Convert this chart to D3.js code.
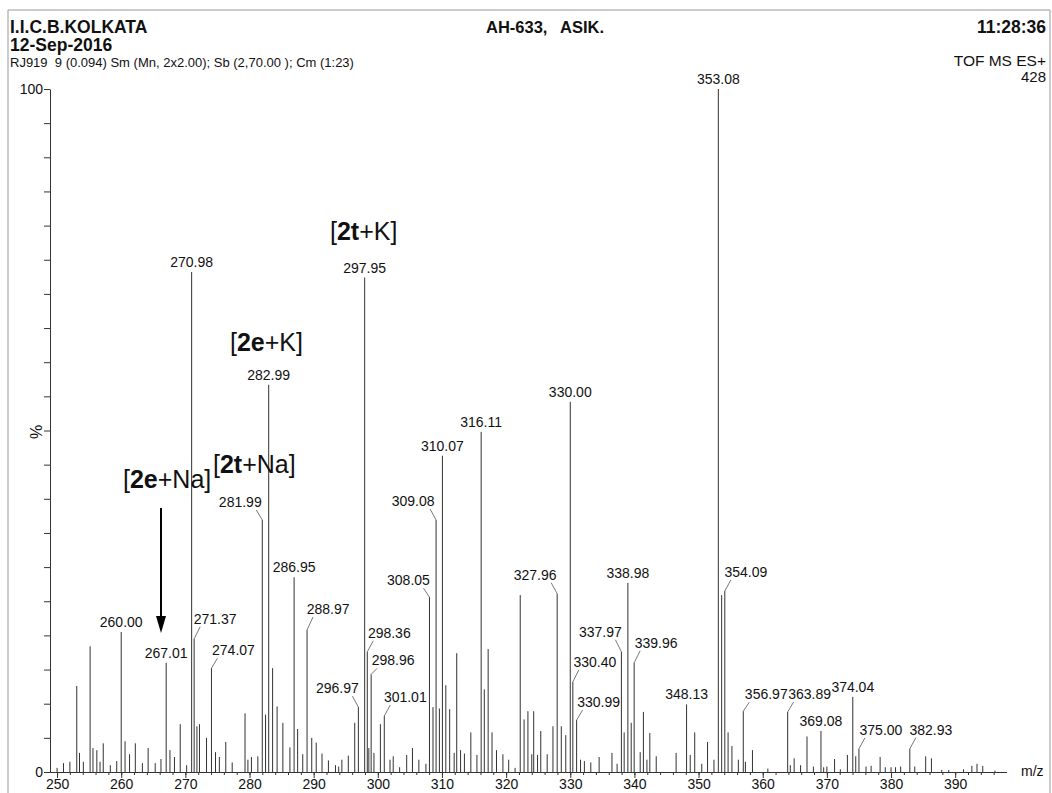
<!DOCTYPE html>
<html><head><meta charset="utf-8">
<script src="https://cdn.jsdelivr.net/npm/d3@7"></script>
<style>
body{margin:0;background:#fff}
svg{display:block}
text{font-family:"Liberation Sans",Arial,Helvetica,sans-serif;fill:#111}
</style>
</head><body>
<svg id="chart" width="1052" height="793"></svg>
<script>
// ---------------- data ----------------
const peakMz = [
250.0, 251.0, 252.0, 253.07, 253.5, 254.1, 255.15, 255.6, 256.2, 256.7, 257.2, 258.3, 259.3,
260.00, 260.6, 261.3, 262.2, 263.3, 264.2, 265.3, 266.2, 267.01, 267.6, 268.3, 269.2,
270.2, 270.98, 271.37, 271.8, 272.2, 273.3, 274.07, 274.7, 275.3, 276.3, 277.3, 279.3, 279.75,
280.3, 281.3, 281.99, 282.5, 282.99, 283.6, 284.3, 285.2, 286.3, 286.95, 287.5, 288.3, 288.97, 289.7,
290.4, 291.3, 292.3, 293.4, 293.9, 294.4, 295.4, 296.4, 296.97, 297.95, 298.36, 298.6, 298.96, 299.4,
300.4, 301.01, 301.9, 302.4, 303.4, 304.5, 305.4, 306.4, 307.5, 308.05, 308.6, 309.08, 309.6,
310.07, 310.6, 311.2, 311.9, 312.3, 312.9, 313.5, 314.5, 315.45, 316.11, 316.6, 317.2, 317.8, 318.5, 319.5,
320.4, 321.4, 322.2, 322.8, 323.4, 324.0, 324.3, 324.9, 325.4, 326.4, 327.3, 327.96, 328.6, 329.3,
330.00, 330.40, 330.99, 331.6, 332.2, 333.2, 334.5, 336.5, 337.3, 337.97, 338.4, 338.98, 339.5, 339.96,
340.9, 341.4, 341.95, 342.4, 343.4, 346.5, 348.13, 348.7, 349.4, 350.5, 351.4, 352.4, 353.08, 353.6,
354.09, 354.6, 355.2, 356.2, 356.97, 357.3, 358.4, 360.8, 363.89, 364.3, 364.9, 365.9, 366.9, 367.9,
369.08, 369.5, 370.0, 371.2, 372.1, 373.2, 374.04, 374.5, 375.00, 376.1, 376.9, 378.3, 379.1,
380.0, 380.7, 381.5, 382.93, 383.7, 385.4, 386.3, 387.9, 389.0, 391.3, 392.6, 393.4, 394.3, 396.2
];
const peakPct = [
0.6, 1.3, 1.5, 12.6, 2.8, 1.5, 18.4, 3.5, 3.2, 1.5, 4.2, 1.0, 1.6,
20.5, 4.5, 2.6, 4.2, 1.3, 3.5, 1.3, 1.9, 16.0, 3.2, 2.2, 7.0,
1.0, 73.2, 19.5, 6.7, 7.0, 5.0, 15.2, 2.9, 2.2, 4.4, 1.4, 8.6, 1.8,
2.2, 2.3, 36.9, 8.4, 56.7, 15.2, 9.6, 7.2, 3.6, 28.5, 6.3, 2.6, 20.8, 5.0,
4.3, 2.7, 1.7, 1.0, 0.8, 1.8, 2.4, 7.2, 9.5, 72.4, 17.6, 3.5, 14.3, 2.8,
7.0, 8.2, 1.8, 2.3, 0.7, 2.5, 3.5, 1.8, 1.2, 25.6, 9.5, 36.9, 9.3,
46.3, 12.7, 9.2, 2.8, 17.4, 3.2, 2.7, 5.8, 2.5, 49.8, 12.1, 18.0, 5.8, 3.2, 2.6,
1.8, 0.6, 25.9, 7.7, 8.9, 2.6, 8.9, 2.5, 6.0, 2.6, 6.7, 26.1, 6.7, 5.4,
54.2, 13.2, 7.6, 1.8, 1.6, 1.4, 2.2, 2.8, 1.2, 17.6, 5.8, 27.7, 7.2, 16.0,
2.9, 8.8, 1.8, 5.7, 2.3, 2.8, 9.9, 2.5, 5.8, 1.2, 4.4, 1.8, 100, 25.9,
26.5, 5.8, 3.8, 1.8, 8.9, 1.5, 3.2, 0.5, 8.8, 1.0, 2.0, 1.0, 5.2, 0.8,
6.0, 0.7, 0.8, 1.9, 0.4, 2.5, 11.0, 2.3, 3.4, 0.8, 0.9, 2.2, 0.7,
0.7, 0.7, 0.8, 3.4, 0.8, 2.3, 2.0, 0.3, 0.3, 0.4, 0.9, 1.2, 0.9, 0.2
];
const labelledMz = [260.00, 267.01, 270.98, 271.37, 274.07, 281.99, 282.99, 286.95, 288.97,
  296.97, 297.95, 298.36, 298.96, 301.01, 308.05, 309.08, 310.07, 316.11, 327.96, 330.00,
  330.40, 330.99, 337.97, 338.98, 339.96, 348.13, 353.08, 354.09, 356.97, 363.89, 369.08,
  374.04, 375.00, 382.93];
const xTickValues = [250, 260, 270, 280, 290, 300, 310, 320, 330, 340, 350, 360, 370, 380, 390];
const yTickValues = d3.range(0, 101, 5);
const yTickLabels = [0, 100];
const headerLeft = ["I.I.C.B.KOLKATA", "12-Sep-2016"];
const headerInfo = "RJ919  9 (0.094) Sm (Mn, 2x2.00); Sb (2,70.00 ); Cm (1:23)";
const headerCenter = ["AH-633,", "ASIK."];
const headerTime = "11:28:36";
const headerRight = ["TOF MS ES+", "428"];
const annotations = [
  ["[", "2e", "+Na]"],
  ["[", "2t", "+Na]"],
  ["[", "2e", "+K]"],
  ["[", "2t", "+K]"]
];

// ---------------- layout ----------------
const svg = d3.select("#chart");
const x = d3.scaleLinear().domain([248.9, 398]).range([50, 1006.5]);
const y = d3.scaleLinear().domain([0, 100]).range([772, 89]);
// label offsets (px) relative to the peak top; default sits straight above
const labelOffset = {
  "271.37":[21,-15], "274.07":[22,-13], "281.99":[-22,-13], "288.97":[21,-16],
  "296.97":[-21,-14], "298.36":[22,-14], "298.96":[22,-9], "301.01":[21,-14],
  "308.05":[-21,-12], "309.08":[-23,-14], "327.96":[-22,-14], "330.40":[22,-15],
  "330.99":[22,-13], "337.97":[-21,-15], "339.96":[22,-15], "354.09":[21,-14],
  "356.97":[23,-12], "363.89":[22,-13], "375.00":[22,-14], "382.93":[21,-14]
};
const annotationPos = [[123, 488], [213, 473], [230, 351], [330, 240]];

// page frame
svg.append("path").attr("d", "M8,793V10H1050V793")
  .attr("fill", "none").attr("stroke", "#999").attr("stroke-width", 1);

// header
const bold = (tx, ty, s, size, anchor) => svg.append("text").attr("x", tx).attr("y", ty)
  .attr("font-size", size).attr("font-weight", "bold").attr("text-anchor", anchor || "start").text(s);
bold(10, 33, headerLeft[0], 17.5);
bold(10, 51, headerLeft[1], 17.5);
bold(486, 33, headerCenter[0], 16.5);
bold(560, 33, headerCenter[1], 16.5);
bold(1046, 33, headerTime, 17.5, "end");
svg.append("text").attr("x", 10).attr("y", 67).attr("font-size", 13)
  .attr("xml:space", "preserve").style("white-space", "pre").text(headerInfo);
svg.append("text").attr("x", 1046).attr("y", 66).attr("font-size", 15.5).attr("text-anchor", "end").text(headerRight[0]);
svg.append("text").attr("x", 1046).attr("y", 82).attr("font-size", 15).attr("text-anchor", "end").text(headerRight[1]);

// peaks
const peaks = peakMz.map((m, i) => ({mz: m, pct: peakPct[i]}));
svg.append("g").selectAll("line").data(peaks).join("line")
  .attr("x1", d => x(d.mz)).attr("x2", d => x(d.mz))
  .attr("y1", y(0)).attr("y2", d => y(d.pct))
  .attr("stroke", "#333").attr("stroke-width", 1);

// axes
const yAxis = d3.axisLeft(y).tickValues(yTickValues).tickSize(6).tickSizeOuter(0).tickPadding(1)
  .tickFormat(v => yTickLabels.includes(v) ? String(v) : "");
svg.append("g").attr("transform", `translate(${x.range()[0]},0)`).call(yAxis);
const xMinor = d3.axisBottom(x).tickValues(d3.range(250, 398, 2)).tickSize(3).tickSizeOuter(0).tickFormat("");
svg.append("g").attr("transform", `translate(0,${y(0)})`).call(xMinor);
const xAxis = d3.axisBottom(x).tickValues(xTickValues).tickSize(6).tickSizeOuter(0).tickPadding(1);
svg.append("g").attr("transform", `translate(0,${y(0)})`).call(xAxis);
svg.selectAll(".domain, .tick line").attr("stroke", "#333");
svg.selectAll(".tick text").attr("font-size", 14).attr("font-family", '"Liberation Sans",Arial,sans-serif').attr("fill", "#111");

svg.append("text").attr("x", 1021).attr("y", 776).attr("font-size", 14).text("m/z");
svg.append("text").attr("transform", "translate(42,432) rotate(-90)")
  .attr("text-anchor", "middle").attr("font-size", 16).text("%");

// peak labels
const fmt = d3.format(".2f");
const lbl = svg.append("g");
labelledMz.forEach(m => {
  const i = peakMz.indexOf(m);
  const px = x(m), py = y(peakPct[i]);
  const key = fmt(m);
  const off = labelOffset[key] || [0, -5];
  if (off[0] !== 0) {
    const s = Math.sign(off[0]);
    lbl.append("line").attr("x1", px).attr("y1", py)
      .attr("x2", px + s * 6).attr("y2", py + off[1] + 3)
      .attr("stroke", "#555").attr("stroke-width", 0.8);
  }
  lbl.append("text").attr("x", px + off[0]).attr("y", py + off[1])
    .attr("text-anchor", "middle").attr("font-size", 14).text(key);
});

// annotations
annotations.forEach((parts, k) => {
  const t = svg.append("text").attr("x", annotationPos[k][0]).attr("y", annotationPos[k][1])
    .attr("font-size", 25).attr("fill", "#000");
  t.append("tspan").text(parts[0]);
  t.append("tspan").attr("font-weight", "bold").text(parts[1]);
  t.append("tspan").text(parts[2]);
});

// arrow
const ax = 161;
svg.append("line").attr("x1", ax).attr("x2", ax).attr("y1", 508).attr("y2", 620)
  .attr("stroke", "#000").attr("stroke-width", 2);
svg.append("path").attr("d", `M${ax},633L${ax-5},616L${ax+5},616Z`).attr("fill", "#000");
</script>
</body></html>
